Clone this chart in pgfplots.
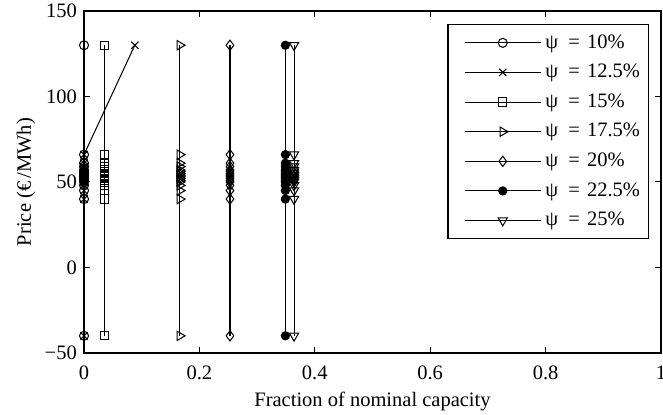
\documentclass[border=0pt]{standalone}
\usepackage{fontspec}
\setmainfont{Liberation Serif}
\usepackage{pgfplots}
\pgfplotsset{compat=1.18}
\newcommand{\psilab}[1]{ψ\hspace{5pt}=\hspace{3.5pt}#1\%}
\begin{document}
\begin{tikzpicture}
\begin{axis}[
  scale only axis,
  width=281.5pt, height=166.8pt,
  xmin=0, xmax=1, ymin=-50, ymax=150,
  xtick={0,0.2,0.4,0.6,0.8,1},
  xticklabels={0,0.2,0.4,0.6,0.8,1},
  ytick={-50,0,50,100,150},
  yticklabels={−50,0,50,100,150},
  xticklabel style={yshift=-3pt},
  tick align=inside,
  major tick length=3pt,
  tick style={black, line width=0.5pt},
  axis line style={line width=0.6pt},
  xlabel={Fraction of nominal capacity},
  ylabel={Price (€\,/MWh)},
  xlabel style={at={(axis description cs:0.5,0)}, anchor=base, yshift=-26.3pt},
  ylabel style={at={(axis description cs:0,0.5)}, anchor=center, yshift=28.3pt},
  every axis plot/.append style={black, line width=0.5pt, mark options={solid, fill=white}},
  legend cell align=left,
  legend style={at={(0.979,0.962)}, anchor=north east,
    draw=black, line width=0.6pt, row sep=2.3pt,
    inner xsep=2pt, inner ysep=2.8pt, font=\normalsize},
  legend image code/.code={%
    \path (-6pt,0pt);
    \draw[mark repeat=2,mark phase=2] plot coordinates {(0pt,0pt)(18.5pt,0pt)(37pt,0pt)};},
]
% psi = 10%
\addplot[mark=o, mark size=2.2pt] coordinates {
(0,-40)(0,40)(0,45)(0,48)(0,50)(0,51)(0,52)(0,53)(0,54)(0,55)(0,56)(0,57)(0,59)(0,61)(0,66)(0,130)};
\addlegendentry{\psilab{10}}
% psi = 12.5%
\addplot[mark=x, mark size=2.5pt] coordinates {
(0,-40)(0,40)(0,45)(0,48)(0,50)(0,51)(0,52)(0,53)(0,54)(0,55)(0,56)(0,57)(0,59)(0,61)(0,66)(0.088,130)};
\addlegendentry{\psilab{12.5}}
% psi = 15%
\addplot[mark=square, mark size=2pt] coordinates {
(0.035,-40)(0.035,40)(0.035,45)(0.035,48)(0.035,50)(0.035,51)(0.035,52)(0.035,53)(0.035,54)(0.035,55)(0.035,56)(0.035,57)(0.035,59)(0.035,61)(0.035,66)(0.035,130)};
\addlegendentry{\psilab{15}}
% psi = 17.5%
\addplot[mark=triangle, mark size=2.6pt, mark options={rotate=-90}] coordinates {
(0.166,-40)(0.166,40)(0.166,45)(0.166,48)(0.166,50)(0.166,51)(0.166,52)(0.166,53)(0.166,54)(0.166,55)(0.166,56)(0.166,57)(0.166,59)(0.166,61)(0.166,66)(0.166,130)};
\addlegendentry{\psilab{17.5}}
% psi = 20%
\addplot[mark=diamond, mark size=2.5pt] coordinates {
(0.253,-40)(0.253,40)(0.253,45)(0.253,48)(0.253,50)(0.253,51)(0.253,52)(0.253,53)(0.253,54)(0.253,55)(0.253,56)(0.253,57)(0.253,59)(0.253,61)(0.253,66)(0.253,130)};
\addlegendentry{\psilab{20}}
% psi = 22.5%
\addplot[mark=*, mark size=2pt, mark options={fill=black}] coordinates {
(0.349,-40)(0.349,40)(0.349,45)(0.349,48)(0.349,50)(0.349,51)(0.349,52)(0.349,53)(0.349,54)(0.349,55)(0.349,56)(0.349,57)(0.349,59)(0.349,61)(0.349,66)(0.349,130)};
\addlegendentry{\psilab{22.5}}
% psi = 25%
\addplot[mark=triangle, mark size=2.6pt, mark options={rotate=180}] coordinates {
(0.364,-40)(0.364,40)(0.364,45)(0.364,48)(0.364,50)(0.364,51)(0.364,52)(0.364,53)(0.364,54)(0.364,55)(0.364,56)(0.364,57)(0.364,59)(0.364,61)(0.364,66)(0.364,130)};
\addlegendentry{\psilab{25}}
\end{axis}
\path (current axis.south west) ++(-41pt,-30.2pt) coordinate (bbA);
\path (current axis.north east) ++(1pt,5.4pt) coordinate (bbB);
\pgfresetboundingbox
\useasboundingbox (bbA) rectangle (bbB);
\end{tikzpicture}
\end{document}
